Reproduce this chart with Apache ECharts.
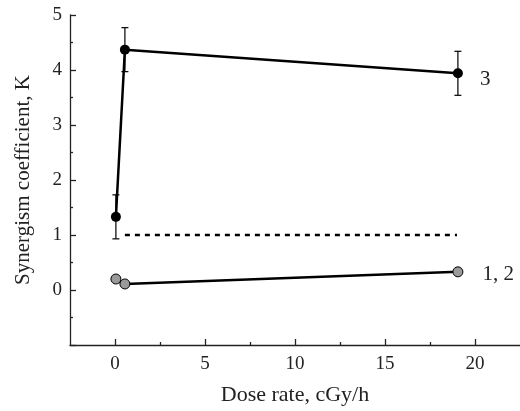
<!DOCTYPE html>
<html><head><meta charset="utf-8">
<script src="https://cdn.jsdelivr.net/npm/echarts@6/dist/echarts.min.js"></script>
<style>html,body{margin:0;padding:0;background:#fff}#c{width:520px;height:411px}</style>
</head><body><div id="c"></div>
<script>
// Series 3 (black) with error bars
const dose3 = [0.05, 0.55, 19.05];
const k3 = [1.33, 4.37, 3.94];
const err3 = [0.40, 0.40, 0.40];
// Series 1, 2 (grey)
const dose12 = [0.05, 0.55, 19.05];
const k12 = [0.20, 0.11, 0.33];
// Reference level K = 1 (dotted)
const refDose = [0.55, 19.0];
const refK = [1, 1];
// Axis ticks
const xMajor = [0, 5, 10, 15, 20];
const xMinor = [2.5, 7.5, 12.5, 17.5];
const label3 = '3';
const label12 = '1, 2';

const FONT = 'Liberation Serif';
const chart = echarts.init(document.getElementById('c'));

function pts(xs, ys) { return xs.map((x, i) => [x, ys[i]]); }
function withEndLabel(data, text) {
  return data.map((p, i) => i === data.length - 1 ? {value: p, label: {show: true, formatter: text}} : p);
}
const d3 = withEndLabel(pts(dose3, k3), label3);
const d12 = withEndLabel(pts(dose12, k12), label12);
const errData = dose3.map((x, i) => [x, k3[i], err3[i]]);

const option = {
  backgroundColor: '#fff',
  animation: false,
  grid: {left: 70, right: 0, top: 15, bottom: 63, containLabel: false},
  xAxis: [{
    type: 'value', min: -2.5, max: 22.5,
    name: 'Dose rate, cGy/h', nameLocation: 'middle', nameGap: 39,
    nameTextStyle: {fontFamily: FONT, fontSize: 22, color: '#222'},
    axisLine: {onZero: false, lineStyle: {color: '#222', width: 1.3}},
    axisTick: {inside: true, length: 6, lineStyle: {color: '#222', width: 1.3}, customValues: xMajor},
    axisLabel: {fontFamily: FONT, fontSize: 19, color: '#222', margin: 10, customValues: xMajor},
    splitLine: {show: false}
  }, {
    type: 'value', min: -2.5, max: 22.5, position: 'bottom',
    axisLine: {show: false, onZero: false},
    axisTick: {inside: true, length: 3, lineStyle: {color: '#222', width: 1.3}, customValues: xMinor},
    axisLabel: {show: false},
    splitLine: {show: false}
  }],
  yAxis: {
    type: 'value', min: -1, max: 5, interval: 1,
    name: 'Synergism coefficient, K', nameLocation: 'middle', nameGap: 36,
    nameTextStyle: {fontFamily: FONT, fontSize: 21, color: '#222'},
    axisLine: {show: true, onZero: false, lineStyle: {color: '#222', width: 1.3}},
    axisTick: {inside: true, length: 6, lineStyle: {color: '#222', width: 1.3}},
    minorTick: {show: true, splitNumber: 2, length: 3, lineStyle: {color: '#222', width: 1.3}},
    axisLabel: {fontFamily: FONT, fontSize: 19, color: '#222', margin: 8,
      formatter: v => v < 0 ? '' : String(v)},
    splitLine: {show: false}, minorSplitLine: {show: false}
  },
  series: [
    {
      type: 'line', data: pts(refDose, refK), symbol: 'none', silent: true,
      lineStyle: {color: '#000', width: 2.5, type: [5, 5]}, z: 1
    },
    {
      type: 'custom', data: errData, z: 2, silent: true,
      renderItem(params, api) {
        const x = api.value(0), y = api.value(1), e = api.value(2);
        const t = api.coord([x, y + e]), b = api.coord([x, y - e]);
        const w = 3.5, st = {stroke: '#000', lineWidth: 1.2};
        return {type: 'group', children: [
          {type: 'line', shape: {x1: t[0], y1: t[1], x2: b[0], y2: b[1]}, style: st},
          {type: 'line', shape: {x1: t[0] - w, y1: t[1], x2: t[0] + w, y2: t[1]}, style: st},
          {type: 'line', shape: {x1: b[0] - w, y1: b[1], x2: b[0] + w, y2: b[1]}, style: st}
        ]};
      }
    },
    {
      type: 'line', data: d3, symbol: 'circle', symbolSize: 10, z: 3,
      lineStyle: {color: '#000', width: 2.5}, itemStyle: {color: '#000'},
      label: {show: false, position: 'right', distance: 17, offset: [0, 6],
        fontFamily: FONT, fontSize: 21, color: '#222'}
    },
    {
      type: 'line', data: d12, symbol: 'circle', symbolSize: 10, z: 3,
      lineStyle: {color: '#000', width: 2.5},
      itemStyle: {color: '#9a9a9a', borderColor: '#000', borderWidth: 1},
      label: {show: false, position: 'right', distance: 19, offset: [0, 3],
        fontFamily: FONT, fontSize: 21, color: '#222'}
    }
  ]
};
chart.setOption(option);
</script></body></html>
